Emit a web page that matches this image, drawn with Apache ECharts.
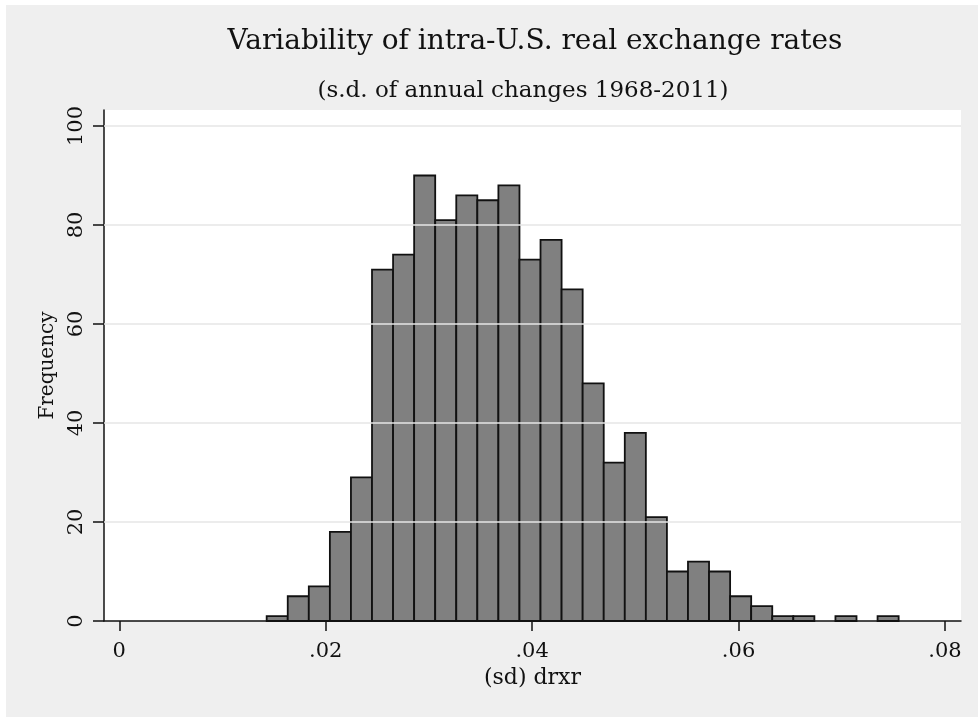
<!DOCTYPE html>
<html>
<head>
<meta charset="utf-8">
<script src="https://cdn.jsdelivr.net/npm/echarts@6/dist/echarts.min.js"></script>
<style>
html,body{margin:0;padding:0;background:#fff;}
#chart{width:978px;height:717px;}
</style>
</head>
<body>
<div id="chart"></div>
<script>
// Histogram of (sd) drxr, 30 bins
const binStart = 0.01428;      // lower edge of first bin
const binWidth = 0.002041;     // bin width
const counts = [1,5,7,18,29,71,74,90,81,86,85,88,73,77,67,48,32,38,21,10,12,10,5,3,1,1,0,1,0,1];
const xTicks = [0, 0.02, 0.04, 0.06, 0.08];
const xTickLabels = ['0', '.02', '.04', '.06', '.08'];
const yTicks = [0, 20, 40, 60, 80, 100];
const titleText = 'Variability of intra-U.S. real exchange rates';
const subtitleText = '(s.d. of annual changes 1968-2011)';
const xName = '(sd) drxr';
const yName = 'Frequency';

const bins = counts.map((c, i) => [binStart + i * binWidth, binStart + (i + 1) * binWidth, c]);

const FONT = 'DejaVu Serif';
const chart = echarts.init(document.getElementById('chart'), null, {renderer: 'canvas'});
chart.setOption({
  backgroundColor: '#fff',
  animation: false,
  graphic: [{
    type: 'rect', z: -10, silent: true,
    shape: {x: 6, y: 5, width: 980, height: 720},
    style: {fill: '#efefef'}
  }],
  title: [{
    text: titleText,
    left: 535, top: 28, textAlign: 'center', padding: 0,
    textStyle: {fontFamily: FONT, fontSize: 28, fontWeight: 'normal', color: '#111'}
  }, {
    text: subtitleText,
    left: 523, top: 80, textAlign: 'center', padding: 0,
    textStyle: {fontFamily: FONT, fontSize: 23, fontWeight: 'normal', color: '#111'}
  }],
  grid: {
    left: 104, right: 17, top: 110, bottom: 96,
    show: true, backgroundColor: '#fff', borderWidth: 0
  },
  xAxis: {
    type: 'value',
    min: -0.001482, max: 0.081552,
    name: xName, nameLocation: 'middle', nameGap: 44,
    nameTextStyle: {fontFamily: FONT, fontSize: 22, color: '#111'},
    axisLine: {show: true, onZero: false, lineStyle: {color: '#111', width: 1.5}},
    axisTick: {show: true, length: 10, customValues: xTicks, lineStyle: {color: '#111', width: 1.5}},
    axisLabel: {
      customValues: xTicks, margin: 20,
      fontFamily: FONT, fontSize: 21, color: '#111',
      formatter: v => { const i = xTicks.findIndex(t => Math.abs(t - v) < 1e-9); return i >= 0 ? xTickLabels[i] : ''; }
    },
    splitLine: {show: false}
  },
  yAxis: {
    type: 'value',
    min: 0, max: 103.23,
    name: yName, nameLocation: 'middle', nameGap: 46, nameRotate: 90,
    nameTextStyle: {fontFamily: FONT, fontSize: 20, color: '#111'},
    axisLine: {show: true, onZero: false, lineStyle: {color: '#111', width: 1.5}},
    axisTick: {show: true, length: 11, customValues: yTicks, lineStyle: {color: '#111', width: 1.5}},
    axisLabel: {
      customValues: yTicks, rotate: 90, margin: 17,
      fontFamily: FONT, fontSize: 21, color: '#111'
    },
    splitLine: {show: false}
  },
  series: [{
    type: 'line', data: [], silent: true,
    markLine: {
      silent: true, symbol: 'none', label: {show: false},
      lineStyle: {color: '#e6e6e6', width: 1.5, type: 'solid'},
      data: yTicks.filter(v => v > 0).map(v => ({yAxis: v}))
    }
  }, {
    type: 'custom',
    data: bins,
    encode: {x: [0, 1], y: 2},
    renderItem: function (params, api) {
      const c = api.value(2);
      if (!c) return null;
      const p0 = api.coord([api.value(0), 0]);
      const p1 = api.coord([api.value(1), c]);
      return {
        type: 'rect',
        shape: {x: p0[0], y: p1[1], width: p1[0] - p0[0], height: p0[1] - p1[1]},
        style: {fill: '#808080', stroke: '#111', lineWidth: 1.8}
      };
    }
  }]
});
</script>
</body>
</html>
